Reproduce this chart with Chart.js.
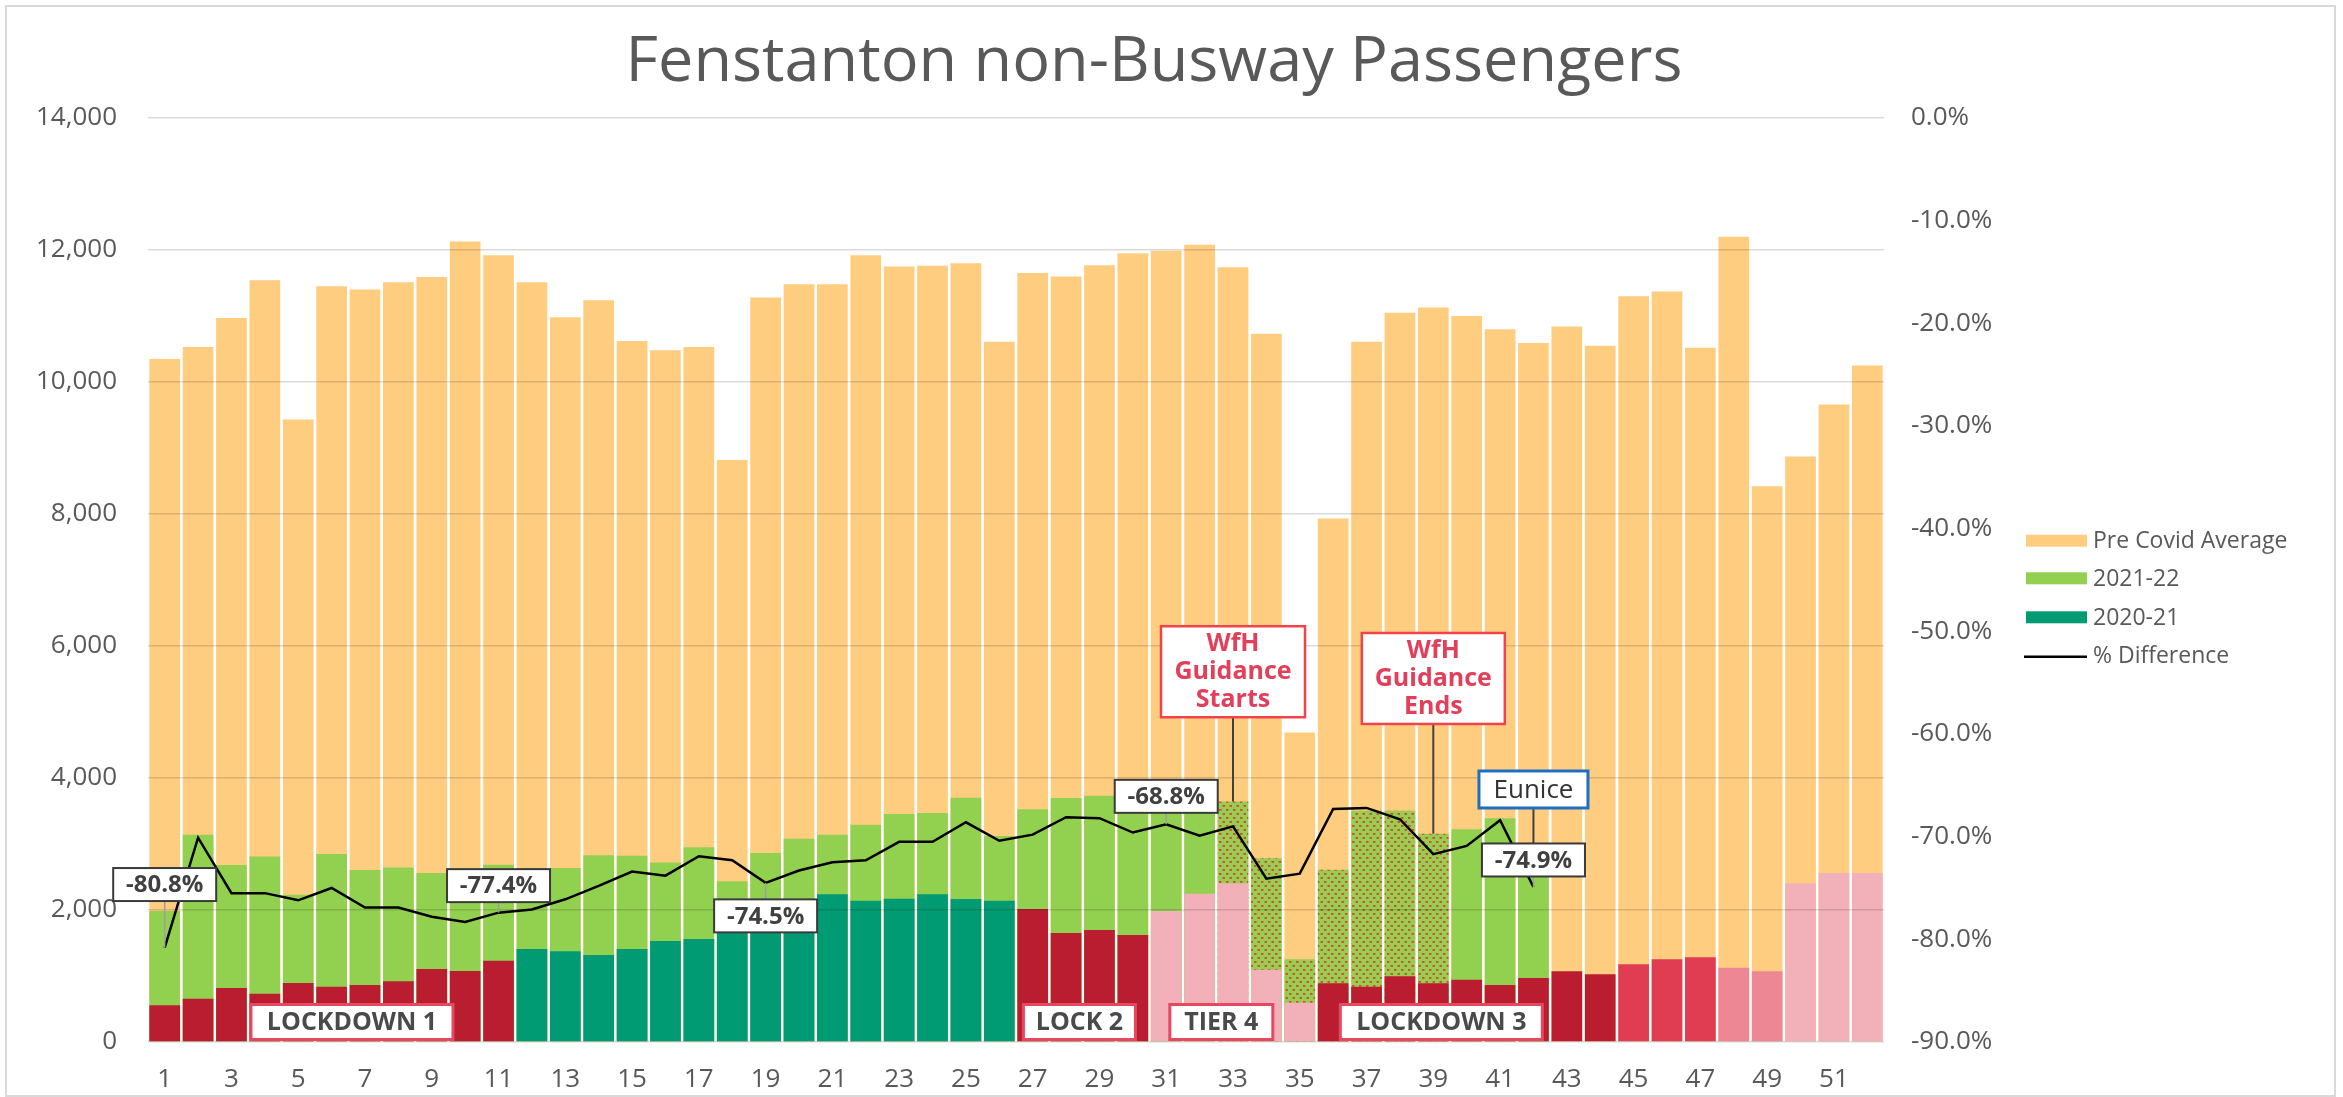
<!DOCTYPE html>
<html>
<head>
<meta charset="utf-8">
<script src="https://cdn.jsdelivr.net/npm/chart.js@4.4.1/dist/chart.umd.min.js"></script>
<style>
html,body{margin:0;padding:0;background:#ffffff;overflow:hidden;}
#wrap{width:2343px;height:1097px;position:relative;}
canvas{display:block;}
</style>
</head>
<body>
<div id="wrap"><canvas id="c" width="2343" height="1097"></canvas></div>
<script>
// ---------------- DATA ----------------
const weeks = ['1','2','3','4','5','6','7','8','9','10','11','12','13','14','15','16','17','18','19','20','21','22','23','24','25','26',
               '27','28','29','30','31','32','33','34','35','36','37','38','39','40','41','42','43','44','45','46','47','48','49','50','51','52'];

const preCovidAverage = [10350,10530,10970,11540,9430,11450,11400,11510,11590,12130,11920,11510,10980,11240,10620,10480,10530,8820,11280,11480,11480,11920,11750,11760,11800,10610,
                         11650,11600,11770,11950,11990,12080,11740,10730,4690,7930,10610,11050,11130,11000,10800,10590,10840,10550,11300,11370,10520,12200,8420,8870,9660,10250];

const passengers2122 = [1985,3141,2682,2810,2230,2850,2606,2645,2562,2630,2687,2636,2636,2828,2823,2720,2950,2435,2865,3080,3140,3290,3455,3470,3702,3121,
                        3525,3697,3730,3610,3734,3640,3645,2785,1253,2611,3505,3505,3157,3225,3390,2660,null,null,null,null,null,null,null,null,null,null];

const passengers2021 = [556,657,818,732,894,838,864,919,1106,1076,1232,1409,1374,1318,1409,1530,1560,1690,1700,1710,2240,2140,2172,2237,2167,2141,
                        2015,1652,1697,1621,1985,2247,2404,1096,596,889,838,995,889,944,864,970,1071,1025,1177,1253,1283,1126,1071,2404,2561,2561];

const pctDifference = [-80.8,-70.1,-75.5,-75.5,-76.2,-75.0,-76.9,-76.9,-77.8,-78.3,-77.4,-77.1,-76.1,-74.8,-73.4,-73.8,-71.9,-72.3,-74.5,-73.3,-72.5,-72.3,-70.5,-70.5,-68.6,-70.4,
                       -69.8,-68.1,-68.2,-69.6,-68.8,-69.9,-69.0,-74.1,-73.6,-67.3,-67.2,-68.3,-71.7,-70.9,-68.4,-74.9,null,null,null,null,null,null,null,null,null,null];

const leftTicks = [0,2000,4000,6000,8000,10000,12000,14000];
const rightTicks = [-90,-80,-70,-60,-50,-40,-30,-20,-10,0];
const wfhWeeks = ['33','34','35','36','37','38','39'];

// restriction period of each 2020-21 week (drives colour)
const period2021 = ['L','L','L','L','L','L','L','L','L','L','L','O','O','O','O','O','O','O','O','O','O','O','O','O','O','O',
                    'L','L','L','L','T','T','T','T','T','L','L','L','L','L','L','L','L','L','M','M','M','P','P','T','T','T'];

// ---------------- STYLES ----------------
const C_PRE = '#FFCD80', C_GREEN = '#92D050', C_TEAL = '#009B72';
const periodColour = { L:'#BA1D30', O:C_TEAL, T:'#F2B0B9', M:'#E03C52', P:'#EC8793' };
const TXT = '#595959';
const FONT = "'Open Sans', sans-serif";

function makeHatch(){
  const c = document.createElement('canvas'); c.width = 7; c.height = 8;
  const g = c.getContext('2d');
  g.fillStyle = C_GREEN; g.fillRect(0,0,7,8);
  g.fillStyle = '#F03A3A';
  g.fillRect(1,1,2.5,1.8); g.fillRect(4.5,5,2.5,1.8);
  return g.createPattern(c,'repeat');
}
const hatch = makeHatch();
const green2122Colours = weeks.map(w => wfhWeeks.includes(w) ? hatch : C_GREEN);
const colours2021 = period2021.map(p => periodColour[p]);

// annotations (positions are styles, not data)
const pctCallouts = [ {week:1, dy:-63}, {week:11, dy:-27}, {week:19, dy:33}, {week:31, dy:-28}, {week:42, dy:-27} ];
const periodLabels = [ {text:'LOCKDOWN 1', at:5.61, w:202}, {text:'LOCK 2', at:27.4, w:112}, {text:'TIER 4', at:31.65, w:103}, {text:'LOCKDOWN 3', at:38.24, w:202} ];
const wfhCallouts = [ {lines:['WfH','Guidance','Starts'], week:33, yVal:5610, w:144, h:91},
                      {lines:['WfH','Guidance','Ends'],   week:39, yVal:5508, w:143, h:91} ];
const eunice = {text:'Eunice', week:42, yVal:3826, w:109, h:37};

Chart.defaults.font.family = FONT;
Chart.defaults.color = TXT;

function strokeLine(ctx,x1,y1,x2,y2,col,lw){ ctx.beginPath(); ctx.moveTo(x1,y1); ctx.lineTo(x2,y2); ctx.strokeStyle=col; ctx.lineWidth=lw; ctx.stroke(); }
function drawBox(ctx,cx,cy,w,h,stroke,lw){
  ctx.fillStyle='#ffffff'; ctx.fillRect(cx-w/2,cy-h/2,w,h);
  ctx.strokeStyle=stroke; ctx.lineWidth=lw; ctx.strokeRect(cx-w/2,cy-h/2,w,h);
}

const annotPlugin = {
  id:'annot',
  afterDraw(chart){
    const ctx = chart.ctx, xs = chart.scales.x, ys = chart.scales.y, ca = chart.chartArea;
    const lineMeta = chart.getDatasetMeta(3);
    ctx.save();
    // outer frame
    ctx.strokeStyle='#D9D9D9'; ctx.lineWidth=2; ctx.strokeRect(6,6,2329,1090);
    // title
    ctx.fillStyle=TXT; ctx.font="63px "+FONT; ctx.textAlign='center'; ctx.textBaseline='alphabetic';
    ctx.fillText('Fenstanton non-Busway Passengers',1154,81);
    // legend
    const legendItems = chart.data.datasets.map(d=>({label:d.label, type:d.type, colour:d.legendColour}));
    const rows=[540.7,578.3,617.3,655.7];
    legendItems.forEach((it,i)=>{
      const y=rows[i];
      if(it.type==='line'){ strokeLine(ctx,2024,y+1,2087,y+1,'#000000',2.5); }
      else { ctx.fillStyle=it.colour; ctx.fillRect(2026,y-6,61,12); }
      ctx.fillStyle=TXT; ctx.font="23px "+FONT; ctx.textAlign='left'; ctx.textBaseline='middle';
      ctx.fillText(it.label,2093,y+1);
    });
    // WfH callouts
    wfhCallouts.forEach(c=>{
      const cx = xs.getPixelForValue(c.week-1), cy = ys.getPixelForValue(c.yVal);
      const barTop = ys.getPixelForValue(passengers2122[c.week-1]);
      strokeLine(ctx,cx,cy+c.h/2,cx,barTop,'#404040',2);
      drawBox(ctx,cx,cy,c.w,c.h,'#F2424A',2.5);
      ctx.fillStyle='#E33F5A'; ctx.font="bold 25px "+FONT; ctx.textAlign='center'; ctx.textBaseline='middle';
      c.lines.forEach((t,k)=>ctx.fillText(t,cx,cy+(k-1)*28));
    });
    // percentage callouts
    const BW=103, BH=33;
    const pctBox = {};
    pctCallouts.forEach(c=>{
      const p = lineMeta.data[c.week-1];
      const cx=p.x, cy=p.y+c.dy;
      pctBox[c.week]={cx,cy};
      const edge = c.dy<0 ? cy+BH/2 : cy-BH/2;
      strokeLine(ctx,p.x,p.y,p.x,edge,'#9E9E9E',1.5);
    });
    // Eunice
    {
      const cx = xs.getPixelForValue(eunice.week-1), cy = ys.getPixelForValue(eunice.yVal);
      const target = pctBox[eunice.week];
      strokeLine(ctx,cx,cy+eunice.h/2,cx,target.cy-BH/2,'#404040',2);
      drawBox(ctx,cx,cy,eunice.w,eunice.h,'#1F6FC0',3);
      ctx.fillStyle='#333333'; ctx.font="26px "+FONT; ctx.textAlign='center'; ctx.textBaseline='middle';
      ctx.fillText(eunice.text,cx,cy+1);
    }
    pctCallouts.forEach(c=>{
      const b=pctBox[c.week];
      drawBox(ctx,b.cx,b.cy,BW,BH,'#3A3A3A',2);
      ctx.fillStyle='#404040'; ctx.font="bold 24px "+FONT; ctx.textAlign='center'; ctx.textBaseline='middle';
      ctx.fillText(pctDifference[c.week-1].toFixed(1)+'%',b.cx,b.cy+1);
    });
    // period labels
    periodLabels.forEach(l=>{
      const cx = xs.getPixelForValue(l.at), cy = ca.bottom-20;
      drawBox(ctx,cx,cy,l.w,35,'#E8485F',3);
      ctx.fillStyle='#4A4A4A'; ctx.font="bold 25px "+FONT; ctx.textAlign='center'; ctx.textBaseline='middle';
      ctx.fillText(l.text,cx,cy+1);
    });
    ctx.restore();
  }
};

new Chart(document.getElementById('c'), {
  type:'bar',
  data:{
    labels:weeks,
    datasets:[
      { type:'bar', label:'Pre Covid Average', data:preCovidAverage, backgroundColor:C_PRE, legendColour:C_PRE,
        grouped:false, order:3, barPercentage:1, categoryPercentage:0.92, yAxisID:'y' },
      { type:'bar', label:'2021-22', data:passengers2122, backgroundColor:green2122Colours, legendColour:C_GREEN,
        grouped:false, order:2, barPercentage:1, categoryPercentage:0.92, yAxisID:'y' },
      { type:'bar', label:'2020-21', data:passengers2021, backgroundColor:colours2021, legendColour:C_TEAL,
        grouped:false, order:1, barPercentage:1, categoryPercentage:0.92, yAxisID:'y' },
      { type:'line', label:'% Difference', data:pctDifference, borderColor:'#000000', borderWidth:2.5,
        pointRadius:0, tension:0, order:0, yAxisID:'y2', spanGaps:false }
    ]
  },
  options:{
    responsive:false, animation:false, devicePixelRatio:1,
    layout:{ padding:{ top:118, left:0, right:0, bottom:0 } },
    plugins:{ legend:{display:false}, title:{display:false}, tooltip:{enabled:false} },
    scales:{
      x:{ type:'category', offset:true, grid:{display:false}, border:{display:false},
          ticks:{ autoSkip:false, maxRotation:0, minRotation:0, padding:14, color:TXT, font:{size:26},
                  callback:function(v,i){ return i%2===0 ? this.getLabelForValue(v) : ''; } },
          afterFit:s=>{ s.height=55; } },
      y:{ position:'left', min:leftTicks[0], max:leftTicks[leftTicks.length-1],
          grid:{ color:'rgba(0,0,0,0.14)', lineWidth:1.5, drawTicks:false, z:1 }, border:{display:false},
          afterBuildTicks:s=>{ s.ticks = leftTicks.map(v=>({value:v})); },
          ticks:{ padding:31, color:TXT, font:{size:26}, callback:v=>v.toLocaleString('en-US') },
          afterFit:s=>{ s.width=148; } },
      y2:{ position:'right', min:rightTicks[0], max:rightTicks[rightTicks.length-1],
           grid:{display:false, drawTicks:false}, border:{display:false},
           afterBuildTicks:s=>{ s.ticks = rightTicks.map(v=>({value:v})); },
           ticks:{ padding:27, color:TXT, font:{size:26}, callback:v=>v.toFixed(1)+'%' },
           afterFit:s=>{ s.width=459; } }
    }
  },
  plugins:[annotPlugin]
});
</script>
</body>
</html>
